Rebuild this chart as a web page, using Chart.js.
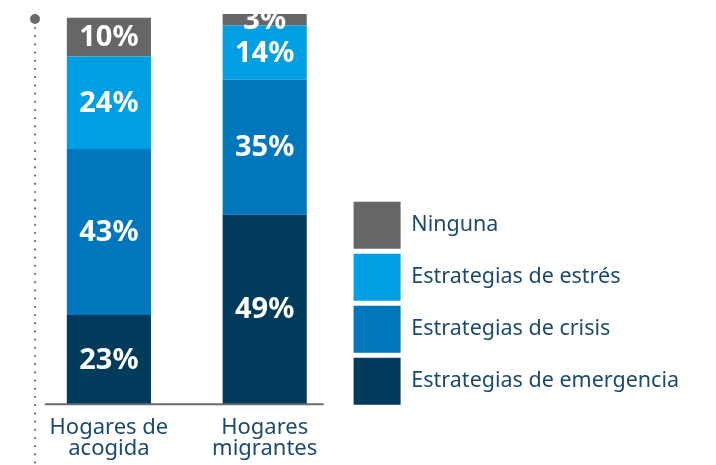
<!DOCTYPE html>
<html lang="es">
<head>
<meta charset="utf-8">
<script src="https://cdn.jsdelivr.net/npm/chart.js@4/dist/chart.umd.min.js"></script>
<style>
  html, body { margin: 0; padding: 0; background: #ffffff; }
  #wrap { width: 716px; height: 465px; position: relative; }
</style>
</head>
<body>
<div id="wrap"><canvas id="chart" width="716" height="465"></canvas></div>
<script>
// Household groups (two-line tick labels)
const categories = [["Hogares de", "acogida"], ["Hogares", "migrantes"]];

// Share of households by coping strategy, in %
const emergencia = [23, 49];
const crisis     = [43, 35];
const estres     = [24, 14];
const ninguna    = [10, 3];

const seriesNames = [
  "Estrategias de emergencia",
  "Estrategias de crisis",
  "Estrategias de estrés",
  "Ninguna"
];
const seriesColors = ["#003b5c", "#0077bd", "#009fe3", "#666666"];

const TEXT_BLUE = "#1c4a6e";
const AXIS_GREY = "#6b6b6b";
const FONT = "'Noto Sans', 'Open Sans', sans-serif";

// Percent labels centred in each segment
const segmentLabels = {
  id: "segmentLabels",
  afterDatasetsDraw(chart) {
    const ctx = chart.ctx;
    ctx.save();
    ctx.fillStyle = "#ffffff";
    ctx.font = "bold 29px " + FONT;
    ctx.textAlign = "center";
    ctx.textBaseline = "middle";
    chart.data.datasets.forEach((ds, di) => {
      const meta = chart.getDatasetMeta(di);
      meta.data.forEach((bar, i) => {
        const p = bar.getProps(["x", "y", "base"], true);
        ctx.fillText(ds.data[i] + "%", p.x, (p.y + p.base) / 2 + 1);
      });
    });
    ctx.restore();
  }
};

// Dotted vertical axis with a round cap, and the grey baseline
const axisDecor = {
  id: "axisDecor",
  beforeDatasetsDraw(chart) {
    const ctx = chart.ctx;
    const a = chart.chartArea;
    const ax = a.left + 4;
    ctx.save();
    ctx.fillStyle = AXIS_GREY;
    ctx.beginPath();
    ctx.arc(ax, a.top + 5, 5, 0, Math.PI * 2);
    ctx.fill();
    for (let y = a.top + 14; y < chart.height - 2; y += 8.2) {
      ctx.beginPath();
      ctx.arc(ax, y, 1.1, 0, Math.PI * 2);
      ctx.fill();
    }
    const bars = chart.getDatasetMeta(0).data;
    const first = bars[0], last = bars[bars.length - 1];
    const x0 = first.x - first.width / 2 - 22;
    const x1 = last.x + last.width / 2 + 17;
    ctx.strokeStyle = AXIS_GREY;
    ctx.lineWidth = 2;
    ctx.beginPath();
    ctx.moveTo(x0, a.bottom + 0.5);
    ctx.lineTo(x1, a.bottom + 0.5);
    ctx.stroke();
    ctx.restore();
  }
};

// Sit the legend's last swatch on the baseline, a little away from the bars
const LEGEND_GAP = 6;
const legendPlacement = {
  id: "legendPlacement",
  afterLayout(chart) {
    const lg = chart.legend;
    const drop = lg.options.labels.padding + 1;
    lg.top += drop; lg.bottom += drop;
    lg.left += LEGEND_GAP; lg.right += LEGEND_GAP;
  }
};

const seriesData = [emergencia, crisis, estres, ninguna];

new Chart(document.getElementById("chart"), {
  type: "bar",
  data: {
    labels: categories,
    datasets: seriesData.map((d, i) => ({
      label: seriesNames[i],
      data: d,
      backgroundColor: seriesColors[i],
      borderWidth: 0,
      categoryPercentage: 1,
      barPercentage: 0.54
    }))
  },
  options: {
    responsive: false,
    animation: false,
    devicePixelRatio: 1,
    layout: { padding: { left: 31, top: 14, right: 33, bottom: -7 } },
    scales: {
      x: {
        stacked: true,
        grid: { display: false, drawTicks: false, tickLength: 0 },
        border: { display: false },
        ticks: {
          color: TEXT_BLUE,
          font: { family: FONT, size: 22, lineHeight: 0.96 },
          padding: 13,
          maxRotation: 0
        }
      },
      y: {
        stacked: true,
        display: false,
        min: 0,
        max: 101
      }
    },
    plugins: {
      legend: {
        position: "right",
        align: "end",
        fullSize: false,
        reverse: true,
        maxWidth: 420,
        labels: {
          boxWidth: 47,
          boxHeight: 47,
          padding: 5,
          color: TEXT_BLUE,
          font: { family: FONT, size: 21.5 }
        }
      },
      tooltip: { enabled: false }
    }
  },
  plugins: [axisDecor, segmentLabels, legendPlacement]
});
</script>
</body>
</html>
